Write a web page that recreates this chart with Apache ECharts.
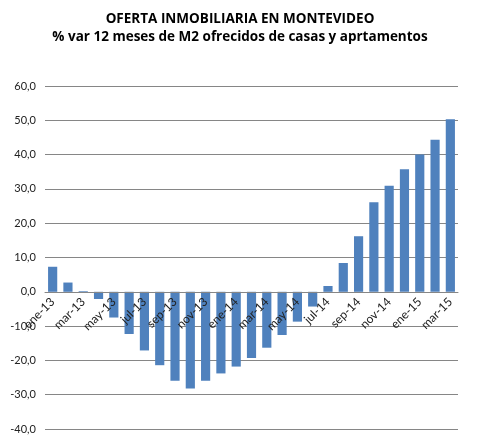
<!DOCTYPE html>
<html>
<head>
<meta charset="utf-8">
<script src="https://cdn.jsdelivr.net/npm/echarts@6/dist/echarts.min.js"></script>
<style>
  html, body { margin: 0; padding: 0; background: #fff; }
  #main { width: 480px; height: 436px; }
</style>
</head>
<body>
<div id="main"></div>
<script>
// meses ene-13 .. mar-15
var meses = [
  "ene-13", "feb-13", "mar-13", "abr-13", "may-13", "jun-13", "jul-13", "ago-13", "sep-13", "oct-13", "nov-13", "dic-13",
  "ene-14", "feb-14", "mar-14", "abr-14", "may-14", "jun-14", "jul-14", "ago-14", "sep-14", "oct-14", "nov-14", "dic-14",
  "ene-15", "feb-15", "mar-15"
];
// % var 12 meses M2 ofrecidos
var variacion = [
  7.3, 2.7, 0.2, -2.1, -7.5, -12.3, -17.1, -21.4, -25.9, -28.2, -25.9, -23.8,
  -21.8, -19.3, -16.3, -12.6, -8.7, -4.3, 1.7, 8.4, 16.2, 26.1, 30.9, 35.7,
  40.0, 44.3, 50.3
];
var ejeY = { min: -40, max: 60, interval: 10 };

var gridTop = 86, gridBottom = 7, altura = 436;
// llevar el eje de categorías a la línea del 0 (onZero no mueve las etiquetas aquí)
var alturaGrid = altura - gridTop - gridBottom;
var offsetCero = -alturaGrid * (0 - ejeY.min) / (ejeY.max - ejeY.min);

var myChart = echarts.init(document.getElementById("main"));
var option = {
  animation: false,
  title: {
    text: "OFERTA INMOBILIARIA EN MONTEVIDEO\n% var 12 meses de M2 ofrecidos de casas y aprtamentos",
    left: "center",
    top: 5,
    textStyle: {
      fontFamily: "Open Sans",
      fontSize: 13.5,
      fontWeight: "bold",
      color: "#000",
      lineHeight: 18
    }
  },
  grid: {
    left: 45,
    right: 22,
    top: gridTop,
    bottom: gridBottom,
    outerBoundsMode: "none"
  },
  xAxis: {
    type: "category",
    data: meses,
    offset: offsetCero,
    z: 5, // etiquetas por encima de las barras
    axisLine: { onZero: false, lineStyle: { color: "#868686" } },
    axisTick: { show: false },
    axisLabel: {
      interval: 1, // una etiqueta cada 2 meses
      rotate: 45,
      margin: 8,
      fontFamily: "Lato",
      fontSize: 12,
      color: "#222"
    }
  },
  yAxis: {
    type: "value",
    min: ejeY.min,
    max: ejeY.max,
    interval: ejeY.interval,
    axisLine: { show: false },
    axisTick: { show: false },
    splitLine: { lineStyle: { color: "#868686", width: 1 } },
    axisLabel: {
      margin: 9,
      fontFamily: "Lato",
      fontSize: 11,
      color: "#222",
      formatter: function (v) { return v.toFixed(1).replace(".", ","); }
    }
  },
  series: [
    {
      type: "bar",
      data: variacion,
      barCategoryGap: "40%",
      itemStyle: { color: "#4f81bd" }
    }
  ]
};
myChart.setOption(option);
</script>
</body>
</html>
